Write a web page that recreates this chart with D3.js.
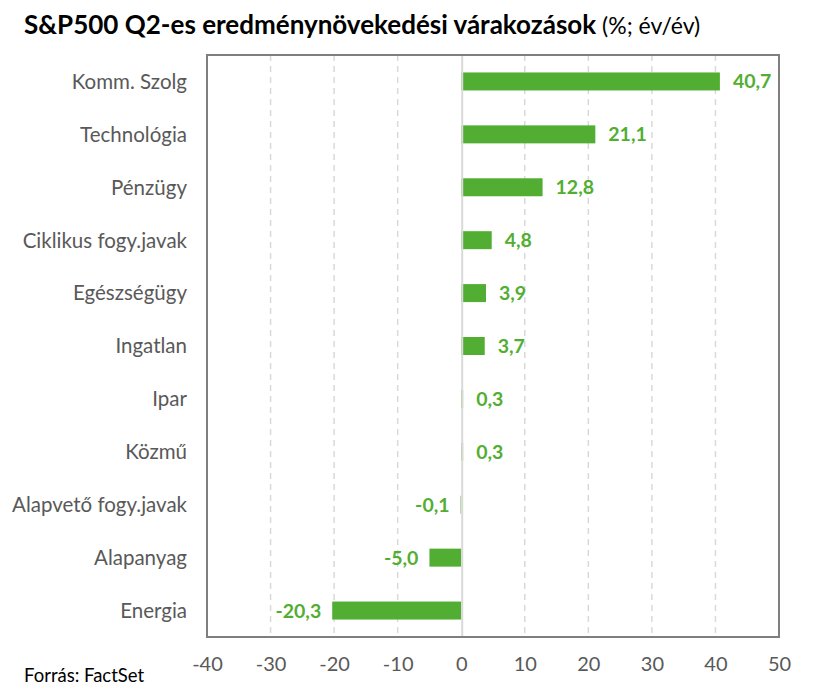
<!DOCTYPE html>
<html>
<head>
<meta charset="utf-8">
<script src="https://cdn.jsdelivr.net/npm/d3@7"></script>
<style>
  body { margin: 0; background: #fff; }
  text { font-family: Lato, "Open Sans", sans-serif; }
</style>
</head>
<body>
<div class="svg-div"></div>
<script>
const categories = ["Komm. Szolg", "Technológia", "Pénzügy", "Ciklikus fogy.javak", "Egészségügy",
  "Ingatlan", "Ipar", "Közmű", "Alapvető fogy.javak", "Alapanyag", "Energia"];
const values = [40.7, 21.1, 12.8, 4.8, 3.9, 3.7, 0.3, 0.3, -0.1, -5.0, -20.3];
const xTicks = [-40, -30, -20, -10, 0, 10, 20, 30, 40, 50];

const svgWidth = 822, svgHeight = 693;
const margin = {top: 55, right: 43, bottom: 56, left: 207};
const width = svgWidth - margin.left - margin.right;
const height = svgHeight - margin.top - margin.bottom;
const green = "#52ae32";

const svg = d3.select(".svg-div").append("svg")
  .attr("width", svgWidth)
  .attr("height", svgHeight);

// title
const title = svg.append("text").attr("x", 24).attr("y", 34);
title.append("tspan").text("S&P500 Q2-es eredménynövekedési várakozások")
  .attr("font-weight", "bold").attr("font-size", 26).attr("fill", "#000");
title.append("tspan").text(" (%; év/év)")
  .attr("font-size", 23).attr("fill", "#000");

svg.append("text").attr("x", 24).attr("y", 682)
  .attr("font-size", 18.5).attr("fill", "#000")
  .text("Forrás: FactSet");

const x = d3.scaleLinear().domain([-40, 50]).range([0, width]);
const y = d3.scaleBand().domain(categories).range([0, height]).paddingInner(0.66).paddingOuter(0.33);

const g = svg.append("g").attr("transform", `translate(${margin.left},${margin.top})`);

// gridlines
g.selectAll(".grid")
  .data(xTicks.filter(d => d !== 0 && d !== -40 && d !== 50))
  .enter().append("line")
  .attr("x1", d => x(d)).attr("x2", d => x(d))
  .attr("y1", 0).attr("y2", height)
  .attr("stroke", "#d9d9d9").attr("stroke-width", 1.5)
  .attr("stroke-dasharray", "6,5");

// bars
g.selectAll(".bar")
  .data(values)
  .enter().append("rect")
  .attr("x", d => x(Math.min(0, d)))
  .attr("width", d => Math.abs(x(d) - x(0)))
  .attr("y", (d, i) => y(categories[i]))
  .attr("height", y.bandwidth())
  .attr("fill", green);

// zero line
g.append("line")
  .attr("x1", x(0) + 1).attr("x2", x(0) + 1).attr("y1", 0).attr("y2", height)
  .attr("stroke", "#d9d9d9").attr("stroke-width", 2);

// frame
g.append("rect")
  .attr("x", 0).attr("y", 0).attr("width", width).attr("height", height)
  .attr("fill", "none").attr("stroke", "#7f7f7f").attr("stroke-width", 2);

// value labels
g.selectAll(".val")
  .data(values)
  .enter().append("text")
  .attr("x", d => d >= 0 ? x(Math.max(d, 0.3)) + 13 : x(d) - 11)
  .attr("y", (d, i) => y(categories[i]) + y.bandwidth() / 2)
  .attr("dy", "0.36em")
  .attr("text-anchor", d => d >= 0 ? "start" : "end")
  .attr("font-weight", "bold").attr("font-size", 19.5).attr("fill", green)
  .text(d => d3.format(".1f")(d).replace(".", ",").replace("−", "-"));

// category axis labels
g.selectAll(".cat")
  .data(categories)
  .enter().append("text")
  .attr("x", -20)
  .attr("y", d => y(d) + y.bandwidth() / 2)
  .attr("dy", "0.36em")
  .attr("text-anchor", "end")
  .attr("font-size", 20.5).attr("fill", "#595959")
  .text(d => d);

// x axis
const xAxis = g.append("g")
  .attr("transform", `translate(0,${height})`)
  .call(d3.axisBottom(x).tickValues(xTicks).tickSize(0).tickPadding(20).tickFormat(d => d < 0 ? "-" + Math.abs(d) : d));
xAxis.select(".domain").remove();
xAxis.selectAll("text").attr("font-size", 20).attr("fill", "#595959")
  .style("font-family", "Lato, sans-serif");
</script>
</body>
</html>
